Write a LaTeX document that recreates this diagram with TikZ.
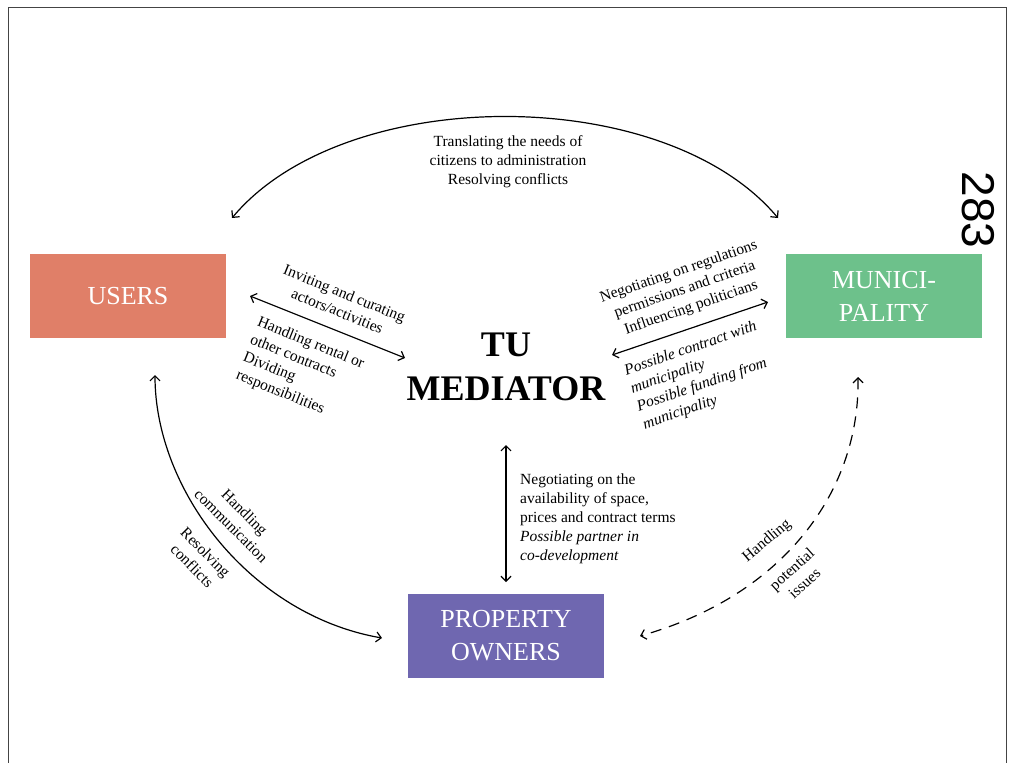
\documentclass[tikz,border=0pt]{standalone}
\usepackage{fontspec}
\setmainfont{Liberation Serif}
\newfontfamily\pgnumfont{Liberation Sans}
\usetikzlibrary{arrows.meta}
\definecolor{usercol}{HTML}{E07F68}
\definecolor{municol}{HTML}{6DC18B}
\definecolor{propcol}{HTML}{6F67B0}
\definecolor{framecol}{HTML}{444444}
\tikzset{
  actor/.style={fill=#1, draw=none, minimum width=196pt, minimum height=84pt, text=white,
    align=center, font=\fontsize{26}{33}\selectfont, inner sep=0pt},
  lbl/.style={font=\fontsize{15.5}{19}\selectfont, inner sep=0pt},
  conn/.style={line width=1.2pt, {Straight Barb[length=5pt,width=10pt]}-{Straight Barb[length=5pt,width=10pt]}},
}
\begin{document}
\begin{tikzpicture}[x=1pt,y=-1pt]
\useasboundingbox (0,0) rectangle (1010,763);
% frame
\draw[framecol, line width=1pt] (8,763) -- (8,7) -- (1006,7) -- (1006,763);

% actors
\node[actor=usercol] (users) at (128,296) {USERS};
\node[actor=municol] (muni) at (884,296) {MUNICI-\\PALITY};
\node[actor=propcol] (prop) at (506,636) {PROPERTY\\OWNERS};
\node[font=\bfseries\fontsize{36}{44}\selectfont, align=center, inner sep=0pt] (med) at (506,367) {TU\\MEDIATOR};

\node[font=\pgnumfont\fontsize{46}{46}\selectfont, rotate=-90, inner sep=0pt] (pg) at (978,210) {283};

% coordinates
\coordinate (topL) at (232,218);
\coordinate (topR) at (778,218);
\coordinate (umA) at (250,296);
\coordinate (umB) at (405,358);
\coordinate (mmA) at (612,355);
\coordinate (mmB) at (768,302);
\coordinate (vA) at (506,445);
\coordinate (vB) at (506,582);
\coordinate (lcA) at (155,375);
\coordinate (lcB) at (382,638);
\coordinate (rcA) at (858,377);
\coordinate (rcB) at (640,636);

% connectors
\draw[conn] (topL) .. controls (345,83) and (665,83) .. (topR);
\draw[conn] (umA) -- (umB);
\draw[conn] (mmA) -- (mmB);
\draw[conn] (vA) -- (vB);
\draw[conn] (lcA) .. controls (155,490) and (250,615) .. (lcB);
\draw[conn, dash pattern=on 11pt off 8pt] (rcA) .. controls (860,490) and (785,595) .. (rcB);

% labels
\node[lbl, align=center] (ltop) at (508,162) {Translating the needs of\\citizens to administration\\Resolving conflicts};
\node[lbl, align=center, rotate=-22] (lum1) at (341,302) {Inviting and curating\\actors/activities};
\node[lbl, align=left, rotate=-22] (lum2) at (300,370) {Handling rental or\\other contracts\\Dividing\\responsibilities};
\node[lbl, align=center, rotate=19] (lmm1) at (685,290) {Negotiating on regulations\\permissions and criteria\\Influencing politicians};
\node[lbl, align=left, rotate=19, font=\itshape\fontsize{15.5}{19}\selectfont] (lmm2) at (700,376) {Possible contract with\\municipality\\Possible funding from\\municipality};
\node[lbl, align=left, anchor=north west] (lv) at (520,474) {Negotiating on the\\availability of space,\\prices and contract terms\\\textit{Possible partner in}\\\textit{co-development}};
\node[lbl, align=center, rotate=-45] (llc1) at (238,519) {Handling\\communication};
\node[lbl, align=center, rotate=-45] (llc2) at (199,559) {Resolving\\conflicts};
\node[lbl, rotate=40] (lrc1) at (767,541) {Handling};
\node[lbl, align=center, rotate=42] (lrc2) at (798,576) {potential\\issues};
\end{tikzpicture}
\end{document}
